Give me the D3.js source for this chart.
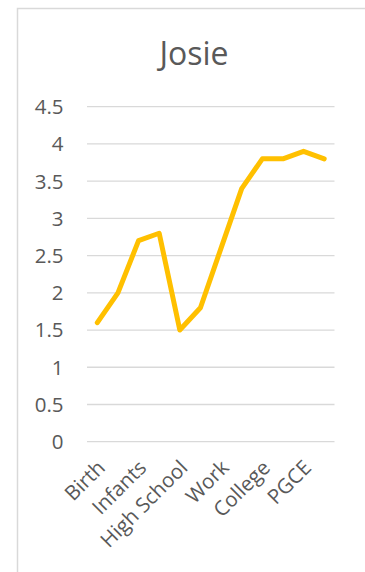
<!DOCTYPE html>
<html>
<head>
<meta charset="utf-8">
<script src="https://cdnjs.cloudflare.com/ajax/libs/d3/7.8.5/d3.min.js"></script>
<style>
  html, body { margin: 0; background: #fff; overflow: hidden; }
  svg { display: block; font-family: "Open Sans", sans-serif; }
</style>
</head>
<body>
<svg id="chart" width="365" height="572"></svg>
<script>
(function() {
  'use strict';

  // data
  var title = "Josie";
  var points = [0, 1, 2, 3, 4, 5, 6, 7, 8, 9, 10, 11];
  var values = [1.6, 2.0, 2.7, 2.8, 1.5, 1.8, 2.6, 3.4, 3.8, 3.8, 3.9, 3.8];
  var tickLabels = ["Birth", "", "Infants", "", "High School", "", "Work", "", "College", "", "PGCE", ""];
  var yTicks = [0, 0.5, 1, 1.5, 2, 2.5, 3, 3.5, 4, 4.5];

  var svg = d3.select("#chart");

  // chart border: only the left and top edges show in the window
  svg.append("path")
    .attr("d", "M17.5,572V8.5H365")
    .attr("fill", "none")
    .attr("stroke", "#d9d9d9")
    .attr("stroke-width", 1.5);

  var x = d3.scalePoint()
    .domain(points)
    .range([87, 334.5])
    .padding(0.5);

  var y = d3.scaleLinear()
    .domain([0, 4.5])
    .range([441.7, 106.7]);

  svg.append("text")
    .attr("x", 194).attr("y", 64.5)
    .attr("text-anchor", "middle")
    .attr("fill", "#595959")
    .attr("font-size", 32)
    .text(title);

  // gridlines
  svg.append("g")
    .selectAll("line")
    .data(yTicks)
    .join("line")
      .attr("x1", 87).attr("x2", 334.5)
      .attr("y1", function(d) { return y(d); })
      .attr("y2", function(d) { return y(d); })
      .attr("stroke", "#d9d9d9")
      .attr("stroke-width", 1.3);

  // y labels
  svg.append("g")
    .selectAll("text")
    .data(yTicks)
    .join("text")
      .attr("x", 63.5)
      .attr("y", function(d) { return y(d); })
      .attr("dy", "0.36em")
      .attr("text-anchor", "end")
      .attr("fill", "#595959")
      .attr("font-size", 20.5)
      .text(function(d) { return d; });

  // x labels, rotated
  svg.append("g")
    .selectAll("text")
    .data(points)
    .join("text")
      .attr("text-anchor", "end")
      .attr("fill", "#595959")
      .attr("font-size", 20.5)
      .attr("transform", function(d) {
        return "translate(" + (x(d) + 9) + ",469) rotate(-45)";
      })
      .text(function(d) { return tickLabels[d]; });

  var line = d3.line()
    .x(function(d, i) { return x(points[i]); })
    .y(function(d) { return y(d); });

  svg.append("path")
    .datum(values)
    .attr("fill", "none")
    .attr("stroke", "#ffc000")
    .attr("stroke-width", 5)
    .attr("stroke-linejoin", "round")
    .attr("stroke-linecap", "round")
    .attr("d", line);
}());
</script>
</body>
</html>
